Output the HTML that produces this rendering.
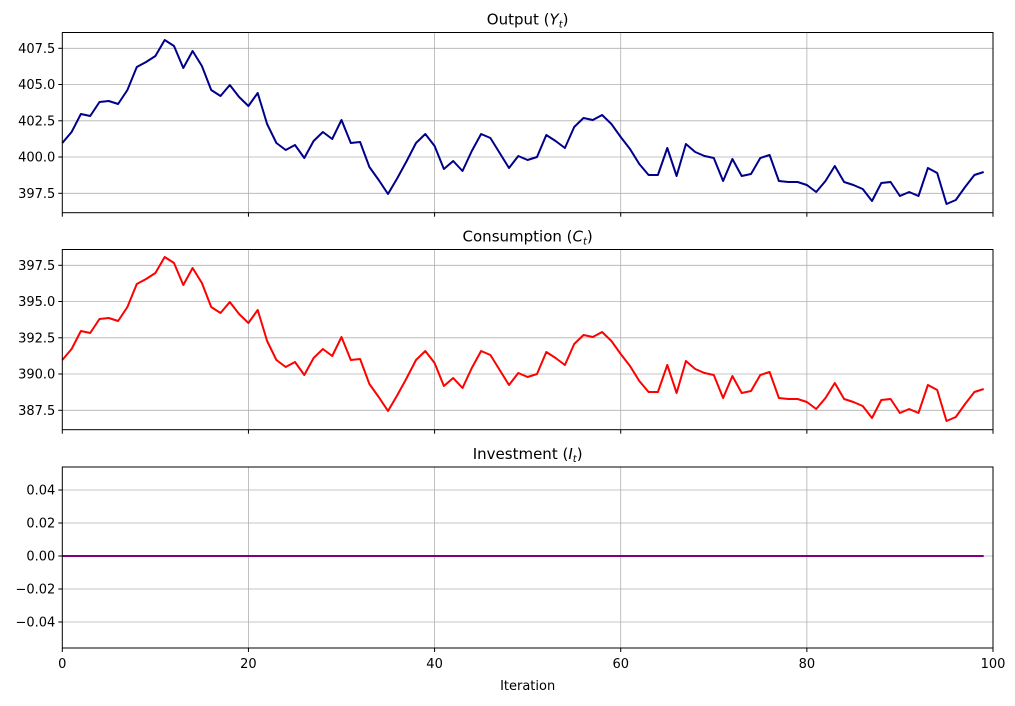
<!DOCTYPE html>
<html><head><style>
body{margin:0;background:#fff;}
svg text{font-family:"DejaVu Sans","Liberation Sans",sans-serif;font-size:13px;fill:#000;}
</style></head><body>
<svg id="s" width="1015" height="701" xmlns="http://www.w3.org/2000/svg"></svg>
<script>
const s=document.getElementById('s');
const L=62.3,R=993,W=(R-L)/100;
const y1=[143,132,114,116,102,101,104,90,67,62,56,40,46,68,51,66,90,96,85,97,106,93,124,143,150,145,158,141,132,139,120,143,142,167,180,194,178,161,143,134,146,169,161,171,151,134,138,153,168,156,160,157,135,141,148,127,118,120,115,124,137,149,164,175,175,148,176,144,152,156,158,181,159,176,174,158,155,181,182,182,185,192,181,166,182,185,189,201,183,182,196,192,196,168,173,204,200,187,175,172];
let h='';
const panels=[{t:32.5,b:212.7,title:'Output (',sub:'Y',ticks:[[48.3,'407.5'],[84.5,'405.0'],[120.8,'402.5'],[157,'400.0'],[193.3,'397.5']],col:'#00008b',off:0},
{t:249.5,b:429.7,title:'Consumption (',sub:'C',ticks:[[265.3,'397.5'],[301.5,'395.0'],[337.8,'392.5'],[374,'390.0'],[410.3,'387.5']],col:'#ff0000',off:217},
{t:467,b:648,title:'Investment (',sub:'I',ticks:[[490,'0.04'],[523,'0.02'],[556,'0.00'],[589,'\u22120.02'],[622,'\u22120.04']],col:'#800080',off:null}];
panels.forEach((p,i)=>{
 [20,40,60,80].forEach(v=>{const x=L+v*W;h+=`<line x1="${x}" x2="${x}" y1="${p.t}" y2="${p.b}" stroke="#b0b0b0" stroke-width="0.8"/>`;});
 p.ticks.forEach(([y,l])=>{h+=`<line x1="${L}" x2="${R}" y1="${y}" y2="${y}" stroke="#b0b0b0" stroke-width="0.8"/><line x1="${L-4}" x2="${L}" y1="${y}" y2="${y}" stroke="#000"/><text x="${L-7}" y="${y+4.5}" text-anchor="end">${l}</text>`;});
 let pts;
 if(p.off===null){pts=`${L},556 ${L+99*W},556`;}
 else pts=y1.map((v,k)=>`${(L+k*W).toFixed(1)},${v+p.off}`).join(' ');
 h+=`<polyline points="${pts}" fill="none" stroke="${p.col}" stroke-width="2" stroke-linejoin="round"/>`;
 h+=`<rect x="${L}" y="${p.t}" width="${R-L}" height="${p.b-p.t}" fill="none" stroke="#000" stroke-width="1"/>`;
 [0,20,40,60,80,100].forEach(v=>{const x=L+v*W;h+=`<line x1="${x}" x2="${x}" y1="${p.b}" y2="${p.b+4}" stroke="#000"/>`;if(i==2)h+=`<text x="${x}" y="${p.b+20}" text-anchor="middle">${v}</text>`;});
 h+=`<text x="${(L+R)/2}" y="${p.t-8}" text-anchor="middle" style="font-size:15px">${p.title}<tspan font-style="italic">${p.sub}</tspan><tspan font-style="italic" style="font-size:10px" dy="3">t</tspan><tspan dy="-3">)</tspan></text>`;
});
h+=`<text x="${(L+R)/2}" y="690" text-anchor="middle">Iteration</text>`;
s.innerHTML=h;
</script>
</body></html>
